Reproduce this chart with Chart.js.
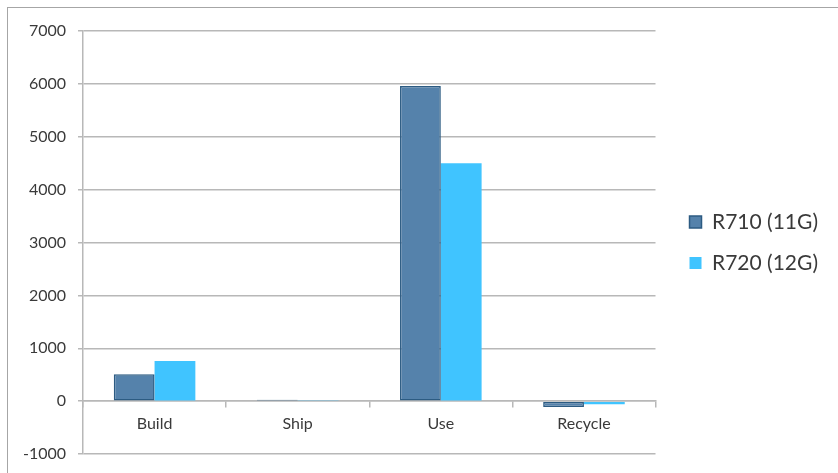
<!DOCTYPE html>
<html>
<head>
<meta charset="utf-8">
<script src="https://cdn.jsdelivr.net/npm/chart.js@4/dist/chart.umd.min.js"></script>
<style>
    html, body { margin: 0; padding: 0; background: #fff; overflow: hidden; }
    #wrap { position: relative; width: 838px; height: 473px; }
    #frame { position: absolute; left: 7px; top: 7px; width: 900px; height: 600px; border: 1.5px solid #a6a6a6; box-sizing: border-box; }
    #chart { position: absolute; left: 0; top: 0; }
</style>
</head>
<body>
<div id="wrap">
    <div id="frame"></div>
    <canvas id="chart" width="838" height="473"></canvas>
</div>
<script>
    'use strict';
    var categories = ['Build', 'Ship', 'Use', 'Recycle'];
    var r710Values = [510, 25, 5960, -110];
    var r720Values = [760, 5, 4500, -60];
    var yTicks = [-1000, 0, 1000, 2000, 3000, 4000, 5000, 6000, 7000];

    var gridColor = '#b8b8b8';
    var textColor = '#3a3a3a';

    // nudge the legend items to the right without changing the plot width
    var legendShift = {
        id: 'legendShift',
        afterLayout: function (chart) {
            chart.legend.left += 14;
            chart.legend.right += 14;
        }
    };

    var ctx = document.getElementById('chart').getContext('2d');
    var chart = new Chart(ctx, {
        type: 'bar',
        data: {
            labels: categories,
            datasets: [
                {
                    label: 'R710 (11G)',
                    data: r710Values,
                    backgroundColor: '#5582ab',
                    borderColor: '#2c5b82',
                    borderWidth: 1.5,
                    borderSkipped: false
                },
                {
                    label: 'R720 (12G)',
                    data: r720Values,
                    backgroundColor: '#40c4ff',
                    borderWidth: 0
                }
            ]
        },
        plugins: [legendShift],
        options: {
            responsive: false,
            animation: false,
            layout: {
                padding: { left: 7, top: 31, bottom: 19, right: 24 }
            },
            datasets: {
                bar: { categoryPercentage: 0.57, barPercentage: 1.0 }
            },
            plugins: {
                tooltip: { enabled: false },
                legend: {
                    position: 'right',
                    labels: {
                        font: { family: 'Lato', size: 21 },
                        color: textColor,
                        boxWidth: 12,
                        boxHeight: 12,
                        padding: 20
                    }
                }
            },
            scales: {
                x: {
                    position: { y: 0 },
                    grid: {
                        offset: true,
                        drawOnChartArea: false,
                        tickLength: 6,
                        color: gridColor,
                        lineWidth: 1.5
                    },
                    border: { display: true, color: gridColor, width: 1.5 },
                    ticks: {
                        font: { family: 'Lato', size: 16 },
                        color: textColor,
                        padding: 7
                    }
                },
                y: {
                    min: -1000,
                    max: 7000,
                    afterBuildTicks: function (scale) {
                        scale.ticks = yTicks.map(function (v) { return { value: v }; });
                    },
                    afterFit: function (scale) {
                        scale.width = 76;
                        scale.paddingTop = 0;
                        scale.paddingBottom = 0;
                    },
                    grid: {
                        color: gridColor,
                        lineWidth: 1.5,
                        tickLength: 5
                    },
                    border: { display: true, color: gridColor, width: 1.5 },
                    ticks: {
                        font: { family: 'Lato', size: 16 },
                        color: textColor,
                        padding: 12,
                        callback: function (v) { return String(v); }
                    }
                }
            }
        }
    });
</script>
</body>
</html>
